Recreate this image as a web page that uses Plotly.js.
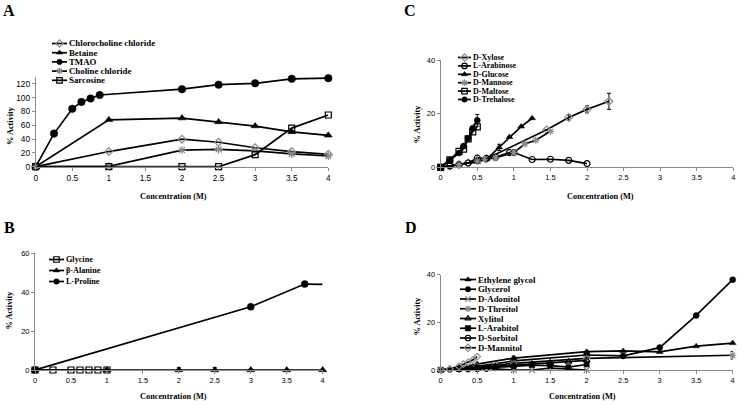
<!DOCTYPE html>
<html><head><meta charset="utf-8">
<script src="https://cdn.plot.ly/plotly-3.0.1.min.js"></script>
<style>html,body{margin:0;padding:0;background:#fff}#chart{width:740px;height:404px}</style>
</head><body><div id="chart"></div>
<script>
// ---------- Panel A ----------
const aTMAO_x = [0,0.25,0.5,0.625,0.75,0.875,2,2.5,3,3.5,4];
const aTMAO_y = [0,48,84,94,99,104,112.5,119,121,127.5,128.5];
const aConc = [0,1,2,2.5,3,3.5,4];
const aChloro_y = [0,22,40,35.5,27.5,22,18];
const aBetaine_y = [0,68,70.5,65,59,50.5,45.5];
const aCholine_y = [0,0.5,24,25,23,18.5,15.5];
const aSarcosine_y = [0,0,0,0,17.5,56,75];
// ---------- Panel B ----------
const bGly_x = [0,0.25,0.5,0.625,0.75,0.875,1];
const bGly_y = [0,0,0,0,0,0,0];
const bAla_x = [0,1,2,2.5,3,3.5,4];
const bAla_y = [0,0,0,0,0,0,0];
const bAla_err = [0,0,1.2,1.2,0,0,0];
const bPro_x = [0,3,3.75,4];
const bPro_y = [0,32.5,44.2,44];
// ---------- Panel C ----------
const cXyl_x = [0,0.125,0.25,0.375,0.5,0.625,1.45,1.75,2,2.3];
const cXyl_y = [0,0.5,1,1.6,2.5,3.2,14,18.6,21.6,24.6];
const cXyl_err = [0,0,0,0,0,0,0,1,1.3,3];
const cAra_x = [0,0.125,0.25,0.375,0.5,0.625,0.75,0.94,1,1.25,1.5,1.75,2];
const cAra_y = [0,0.5,1,1.6,3.4,3.3,3.8,5.5,5.5,2.9,3,2.6,1.4];
const cGlc_x = [0,0.25,0.5,0.625,0.8,0.94,1.1,1.25];
const cGlc_y = [0,1,2,3,7.4,11.3,15.2,18.3];
const cGlc_err = [0,0,0,0,1.2,0,0,0];
const cMan_x = [0,0.25,0.5,0.6,0.75,1,1.15,1.3,1.5];
const cMan_y = [0,1,2.3,3,3.5,5.5,8.7,10.1,13.4];
const cMal_x = [0,0.125,0.25,0.3125,0.375,0.4375,0.5];
const cMal_y = [0,2.8,5.9,6.8,10.6,13.2,15.1];
const cTre_x = [0,0.125,0.25,0.3125,0.375,0.4375,0.5];
const cTre_y = [0,2.6,5.3,7.9,10.8,14.6,17.5];
const cTre_err = [0,0,0,0,0,0,2.2];
// ---------- Panel D ----------
const dEth_x = [0,0.25,0.5,1,2,2.5,3,3.5,4];
const dEth_y = [0,1,2.5,5,7.7,8,7.6,10,11.3];
const dEth_err = [0,0,0,0.8,0,0,0,0,0];
const dGly_x = [0,0.5,1,2,2.5,3,3.5,4];
const dGly_y = [0,1.5,3.8,6.3,5.9,9.4,22.9,37.9];
const dAdo_x = [0,0.25,0.5,1,1.25,1.5,2];
const dAdo_y = [0,0.5,1,0,0,0.8,0];
const dThr_x = [0,0.25,0.5,0.75,1,2,4];
const dThr_y = [0,0.8,1.5,2,2.8,4.9,6.2];
const dThr_err = [0,0,0,0,0,0,1.6];
const dXyl_x = [0,0.25,0.5,0.75,1,1.25,1.5,1.75,2];
const dXyl_y = [0,0.5,1,1.5,2,2.5,3,3.5,4];
const dAra_x = [0,0.25,0.5,0.75,1,1.25,1.5,1.75,2];
const dAra_y = [0,0.5,1,1.2,1.5,2,1.8,1.2,2.3];
const dSor_x = [0,0.125,0.25,0.375,0.5,0.625,0.75];
const dSor_y = [0,0.2,0.3,0.3,0.4,0.5,0.8];
const dMnt_x = [0,0.125,0.25,0.3125,0.375,0.4375,0.5];
const dMnt_y = [0,0.5,1.5,2.5,3.2,4.2,5.6];

const W = 740, H = 404;
const px = v => v / W, py = v => 1 - v / H;
const GRAY = '#8a8a8a';
const styles = {
  diamondGray: {symbol:'diamond-open', color:GRAY, size:6},
  triangle: {symbol:'triangle-up', color:'#000', size:7},
  circle: {symbol:'circle', color:'#000', size:7},
  asterisk: {symbol:'asterisk-open', color:GRAY, size:7},
  square: {symbol:'square-open', color:'#000', size:6},
  squareFill: {symbol:'square', color:'#000', size:6},
  circleOpen: {symbol:'circle-open', color:'#000', size:6},
  xGray: {symbol:'x-thin-open', color:GRAY, size:6},
  triOpen: {symbol:'triangle-up-open', color:'#000', size:6}
};
function mk(st, sz){ const open = st.symbol.indexOf('open')>=0;
  return {symbol:st.symbol, color:st.color, size: sz || st.size, opacity:1,
    line:{color:st.color, width: open ? 1.2 : 0.5}}; }
const traces = [];
function series(xa, ya, name, st, sub, err, sizes){
  const t = {type:'scatter', mode:'lines+markers', x:xa, y:ya, name:name,
    xaxis:'x'+sub, yaxis:'y'+sub, line:{color:'#000', width:1.7},
    marker:mk(st, sizes), cliponaxis:false, showlegend:false};
  if (err) t.error_y = {type:'data', array:err, visible:true, color:'#000', thickness:1, width:2};
  traces.push(t);
}
// Panel A (sub 1)
series(aConc, aChloro_y, 'Chlorocholine chloride', styles.diamondGray, '');
series(aConc, aBetaine_y, 'Betaine', styles.triangle, '');
series(aTMAO_x, aTMAO_y, 'TMAO', styles.circle, '', null, 7.5);
series(aConc, aCholine_y, 'Choline chloride', styles.asterisk, '');
series(aConc, aSarcosine_y, 'Sarcosine', styles.square, '');
// Panel B (sub 2)
series(bGly_x, bGly_y, 'Glycine', styles.square, '2');
series(bAla_x, bAla_y, 'β-Alanine', styles.triangle, '2', bAla_err);
series(bPro_x, bPro_y, 'L-Proline', styles.circle, '2', null, bPro_x.map((v,i)=> i===bPro_x.length-1 ? 0 : 7));
// Panel C (sub 3)
series(cXyl_x, cXyl_y, 'D-Xylose', styles.diamondGray, '3', cXyl_err);
series(cAra_x, cAra_y, 'L-Arabinose', styles.circleOpen, '3');
series(cGlc_x, cGlc_y, 'D-Glucose', styles.triangle, '3', cGlc_err, 6);
series(cMan_x, cMan_y, 'D-Mannose', styles.asterisk, '3', null, 6);
series(cMal_x, cMal_y, 'D-Maltose', styles.square, '3');
series(cTre_x, cTre_y, 'D-Trehalose', styles.circle, '3', cTre_err, 6);
// Panel D (sub 4)
series(dEth_x, dEth_y, 'Ethylene glycol', styles.triangle, '4', dEth_err, 6);
series(dGly_x, dGly_y, 'Glycerol', styles.circle, '4', null, 6);
series(dAdo_x, dAdo_y, 'D-Adonitol', styles.xGray, '4');
series(dThr_x, dThr_y, 'D-Threitol', styles.asterisk, '4', dThr_err, 6);
series(dXyl_x, dXyl_y, 'Xylitol', styles.triOpen, '4');
series(dAra_x, dAra_y, 'L-Arabitol', styles.squareFill, '4', null, 5);
series(dSor_x, dSor_y, 'D-Sorbitol', styles.circleOpen, '4', null, 5);
series(dMnt_x, dMnt_y, 'D-Mannitol', styles.diamondGray, '4', null, 5);

// ---------- manual legends ----------
const annotations = [];
const legends = [
  {names:['Chlorocholine chloride','Betaine','TMAO','Choline chloride','Sarcosine'],
   st:[styles.diamondGray,styles.triangle,styles.circle,styles.asterisk,styles.square],
   x0:52, x1:67, tx:68, y0:43.5, dy:9.2, fs:8.8},
  {names:['Glycine','β-Alanine','L-Proline'],
   st:[styles.square,styles.triangle,styles.circle],
   x0:49, x1:64, tx:65, y0:259.5, dy:11, fs:8.2},
  {names:['D-Xylose','L-Arabinose','D-Glucose','D-Mannose','D-Maltose','D-Trehalose'],
   st:[styles.diamondGray,styles.circleOpen,styles.triangle,styles.asterisk,styles.square,styles.circle],
   x0:458, x1:471, tx:472, y0:57.5, dy:8.4, fs:8.0},
  {names:['Ethylene glycol','Glycerol','D-Adonitol','D-Threitol','Xylitol','L-Arabitol','D-Sorbitol','D-Mannitol'],
   st:[styles.triangle,styles.circle,styles.xGray,styles.asterisk,styles.triOpen,styles.squareFill,styles.circleOpen,styles.diamondGray],
   x0:460, x1:476, tx:477, y0:279.5, dy:9.75, fs:8.8}
];
legends.forEach(L => {
  L.names.forEach((n,i) => {
    const yy = L.y0 + i*L.dy;
    traces.push({type:'scatter', mode:'lines+markers', x:[L.x0,(L.x0+L.x1)/2,L.x1], y:[yy,yy,yy],
      xaxis:'x5', yaxis:'y5', showlegend:false, hoverinfo:'skip', cliponaxis:false,
      line:{color:'#000', width:1.7}, marker:Object.assign(mk(L.st[i], 5.5), {size:[0,5.5,0]})});
    annotations.push({xref:'paper', yref:'paper', x:px(L.tx), y:py(yy), xanchor:'left', yanchor:'middle',
      text:'<b>'+n+'</b>', showarrow:false, borderpad:0, font:{family:'Liberation Serif', size:L.fs, color:'#000'}});
  });
});
// panel letters and axis titles
[['A',9,10],['B',9,228],['C',410,10],['D',411,228]].forEach(p => annotations.push({xref:'paper',yref:'paper',
  x:px(p[1]), y:py(p[2]), xanchor:'center', yanchor:'middle', text:'<b>'+p[0]+'</b>', showarrow:false,
  font:{family:'Liberation Serif', size:16, color:'#000'}}));
[[173,196],[173,396],[600,196],[582,396]].forEach(p => annotations.push({xref:'paper',yref:'paper',
  x:px(p[0]), y:py(p[1]), xanchor:'center', yanchor:'middle', text:'<b>Concentration (M)</b>', showarrow:false,
  font:{family:'Liberation Serif', size:8.3, color:'#000'}}));
[[10,126],[8.5,310],[416.5,124],[416.5,316]].forEach(p => annotations.push({xref:'paper',yref:'paper',
  x:px(p[0]), y:py(p[1]), xanchor:'center', yanchor:'middle', textangle:-90, text:'<b>% Activity</b>', showarrow:false,
  font:{family:'Liberation Serif', size:8.3, color:'#000'}}));

function xax(l, r, fs){ return {domain:[px(l), px(r)], range:[0,4], tickvals:[0,0.5,1,1.5,2,2.5,3,3.5,4],
  ticktext:['0','0.5','1','1.5','2','2.5','3','3.5','4'], showline:true, linecolor:GRAY, linewidth:1,
  ticks:'outside', ticklen:3, tickcolor:GRAY, showgrid:false, zeroline:false,
  tickfont:{family:'Liberation Sans', size:fs, color:'#000'}, fixedrange:true}; }
function yax(b, t, top, dt, fs, anchor){ return {domain:[py(b), py(t)], range:[0, top], dtick:dt, tick0:0,
  showline:true, linecolor:GRAY, linewidth:1, ticks:'outside', ticklen:3, tickcolor:GRAY, showgrid:false,
  zeroline:false, anchor:anchor, tickfont:{family:'Liberation Sans', size:fs, color:'#000'}, fixedrange:true}; }

const layout = {
  width:W, height:H, margin:{l:0,r:0,t:0,b:0}, paper_bgcolor:'#fff', plot_bgcolor:'rgba(0,0,0,0)',
  showlegend:false,
  xaxis: Object.assign(xax(35.7, 328.3, 8.3), {anchor:'y'}),
  yaxis: yax(166.7, 77.1, 130, 20, 8.3, 'x'),
  xaxis2: Object.assign(xax(35, 322.7, 7.5), {anchor:'y2'}),
  yaxis2: yax(370, 253.3, 60, 20, 7.5, 'x2'),
  xaxis3: Object.assign(xax(440.7, 733.3, 7.5), {anchor:'y3'}),
  yaxis3: yax(167.3, 60, 40, 20, 7.5, 'x3'),
  xaxis4: Object.assign(xax(440.7, 732.7, 7.5), {anchor:'y4'}),
  yaxis4: yax(370, 274.7, 40, 20, 7.5, 'x4'),
  xaxis5: {domain:[0,1], range:[0,W], visible:false, anchor:'y5', fixedrange:true},
  yaxis5: {domain:[0,1], range:[H,0], visible:false, anchor:'x5', fixedrange:true},
  annotations: annotations
};
Plotly.newPlot('chart', traces, layout, {staticPlot:true, displayModeBar:false});
</script></body></html>
